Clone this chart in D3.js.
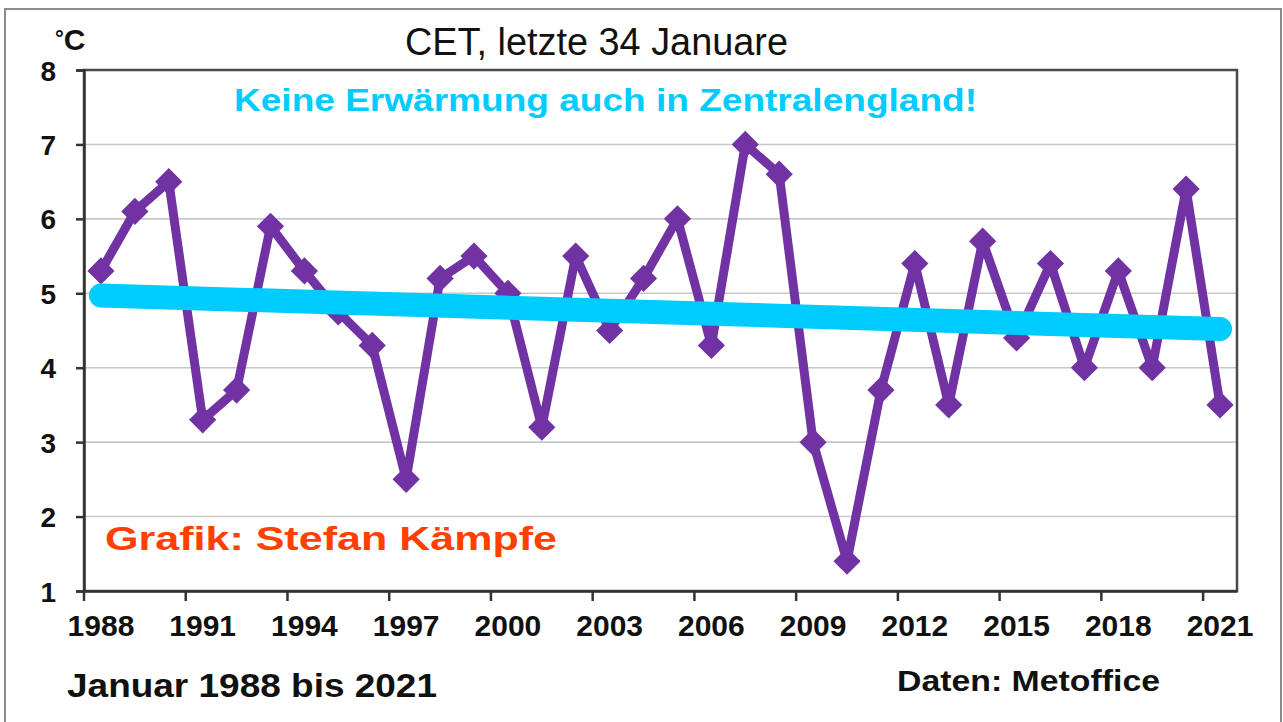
<!DOCTYPE html>
<html>
<head>
<meta charset="utf-8">
<script src="https://cdn.jsdelivr.net/npm/d3@7"></script>
<style>
  html, body { margin: 0; padding: 0; background: #fff; }
  svg { display: block; }
  text { font-family: "Liberation Sans", Arial, sans-serif; }
</style>
</head>
<body>
<svg id="chart" width="1283" height="722"></svg>
<script>
// ---- data ----
const years = [1988,1989,1990,1991,1992,1993,1994,1995,1996,1997,1998,1999,2000,2001,2002,2003,2004,2005,2006,2007,2008,2009,2010,2011,2012,2013,2014,2015,2016,2017,2018,2019,2020,2021];
const temps = [5.3,6.1,6.5,3.3,3.7,5.9,5.3,4.75,4.3,2.5,5.2,5.5,5.0,3.2,5.5,4.5,5.2,6.0,4.3,7.0,6.6,3.0,1.4,3.7,5.4,3.5,5.7,4.4,5.4,4.0,5.3,4.0,6.4,3.5];
const trendYears = [1988, 2021];
const trendValues = [4.97, 4.52];
const yTicks = [1,2,3,4,5,6,7,8];
const xTickYears = [1988,1991,1994,1997,2000,2003,2006,2009,2012,2015,2018,2021];

const svg = d3.select("#chart");
const W = 1283, H = 722;
const plot = {left: 84, right: 1237, top: 70, bottom: 591};

// outer frame
svg.append("rect").attr("x", 5).attr("y", 9).attr("width", W - 7).attr("height", H - 8)
  .attr("fill", "#fff").attr("stroke", "#8c8c8c").attr("stroke-width", 2);

const x = d3.scaleBand().domain(years).range([plot.left, plot.right]).paddingInner(0).paddingOuter(0);
const y = d3.scaleLinear().domain([1, 8]).range([plot.bottom, plot.top]);
const cx = d => x(d) + x.bandwidth() / 2;

// gridlines
svg.append("g").selectAll("line").data(yTicks.filter(t => t > 1 && t < 8)).join("line")
  .attr("x1", plot.left).attr("x2", plot.right)
  .attr("y1", d => y(d)).attr("y2", d => y(d))
  .attr("stroke", "#c8c8c8").attr("stroke-width", 1.6);

// plot border
svg.append("rect").attr("x", plot.left).attr("y", plot.top)
  .attr("width", plot.right - plot.left).attr("height", plot.bottom - plot.top)
  .attr("fill", "none").attr("stroke", "#4a4a4a").attr("stroke-width", 2.5);

// y axis
const yAxis = d3.axisLeft(y).tickValues(yTicks).tickSize(8).tickPadding(18).tickFormat(d3.format("d"));
const gy = svg.append("g").attr("transform", `translate(${plot.left},0)`).call(yAxis);
gy.select(".domain").attr("stroke", "#333").attr("stroke-width", 2.5);
gy.selectAll(".tick line").attr("stroke", "#333").attr("stroke-width", 2.5);
gy.selectAll(".tick text").attr("font-size", 28).attr("font-weight", "bold").attr("fill", "#111")
  .attr("x", -28).attr("dy", "0.36em");

// x axis: labels centered on categories, ticks at category boundaries
const xAxis = d3.axisBottom(x).tickValues(xTickYears).tickSize(0).tickPadding(28);
const gx = svg.append("g").attr("transform", `translate(0,${plot.bottom})`).call(xAxis);
gx.select(".domain").attr("stroke", "#333").attr("stroke-width", 2.5);
gx.selectAll(".tick text").attr("font-size", 30).attr("font-weight", "bold").attr("fill", "#111")
  .attr("dy", "0.55em");
svg.append("g").selectAll("line").data(xTickYears).join("line")
  .attr("x1", d => x(d)).attr("x2", d => x(d))
  .attr("y1", plot.bottom).attr("y2", plot.bottom + 10)
  .attr("stroke", "#333").attr("stroke-width", 2.5);

// data line
const line = d3.line().x((d, i) => cx(years[i])).y(d => y(d));
svg.append("path").datum(temps).attr("d", line)
  .attr("fill", "none").attr("stroke", "#7133a4").attr("stroke-width", 9).attr("stroke-linejoin", "round");

// diamond markers
const sq = d3.symbol().type(d3.symbolSquare).size(370);
svg.append("g").selectAll("path").data(temps).join("path")
  .attr("d", sq)
  .attr("transform", (d, i) => `translate(${cx(years[i])},${y(d)}) rotate(45)`)
  .attr("fill", "#7133a4");

// trend line
const tline = d3.line().x((d, i) => cx(trendYears[i])).y(d => y(d));
svg.append("path").datum(trendValues).attr("d", tline)
  .attr("fill", "none").attr("stroke", "#00ccff").attr("stroke-width", 24).attr("stroke-linecap", "round");

// texts
const deg = svg.append("text").attr("x", 55).attr("y", 50).attr("font-weight", "bold").attr("fill", "#111");
deg.append("tspan").attr("font-size", 22).attr("dy", -4).text("°");
deg.append("tspan").attr("font-size", 30).attr("dy", 4).text("C");
svg.append("text").attr("x", 405).attr("y", 55).attr("font-size", 38).attr("fill", "#111")
  .attr("font-family", "'DejaVu Sans', sans-serif").attr("font-stretch", "condensed")
  .attr("textLength", 383).attr("lengthAdjust", "spacingAndGlyphs")
  .text("CET, letzte 34 Januare");
svg.append("text").attr("x", 234).attr("y", 111).attr("font-size", 31).attr("font-weight", "bold").attr("fill", "#00ccff")
  .attr("textLength", 743).attr("lengthAdjust", "spacingAndGlyphs")
  .text("Keine Erwärmung auch in Zentralengland!");
svg.append("text").attr("x", 105).attr("y", 550).attr("font-size", 34).attr("font-weight", "bold").attr("fill", "#ff4000")
  .attr("textLength", 452).attr("lengthAdjust", "spacingAndGlyphs")
  .text("Grafik: Stefan Kämpfe");
svg.append("text").attr("x", 67).attr("y", 697).attr("font-size", 34).attr("font-weight", "bold").attr("fill", "#111")
  .attr("textLength", 370).attr("lengthAdjust", "spacingAndGlyphs")
  .text("Januar 1988 bis 2021");
svg.append("text").attr("x", 897).attr("y", 691).attr("font-size", 29).attr("font-weight", "bold").attr("fill", "#111")
  .attr("textLength", 263).attr("lengthAdjust", "spacingAndGlyphs")
  .text("Daten: Metoffice");
</script>
</body>
</html>
